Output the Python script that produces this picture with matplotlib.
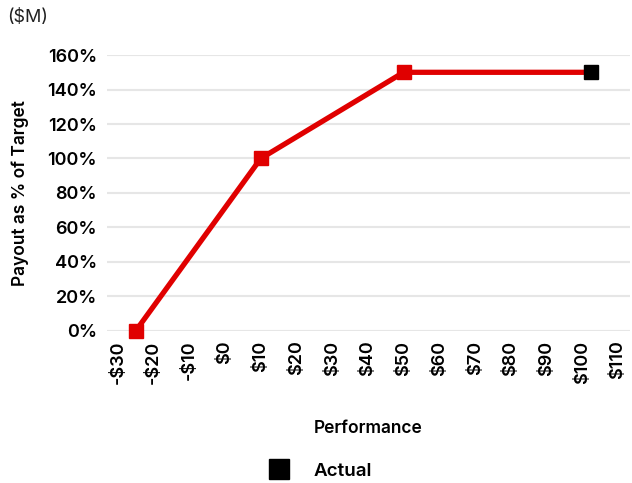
import matplotlib
matplotlib.use("Agg")
import matplotlib.pyplot as plt
from matplotlib.lines import Line2D

plt.rcParams['font.family'] = ['Inter', 'DejaVu Sans']

curve_x = [-25, 10, 50, 102.5]
curve_y = [0, 100, 150, 150]
marker_x = [-25, 10, 50]
marker_y = [0, 100, 150]
actual_x = [102.5]
actual_y = [150]
x_ticks = [-30, -20, -10, 0, 10, 20, 30, 40, 50, 60, 70, 80, 90, 100, 110]
x_labels = ['-$30', '-$20', '-$10', '$0', '$10', '$20', '$30', '$40', '$50',
            '$60', '$70', '$80', '$90', '$100', '$110']
y_ticks = [0, 20, 40, 60, 80, 100, 120, 140, 160]
y_labels = ['0%', '20%', '40%', '60%', '80%', '100%', '120%', '140%', '160%']

fig = plt.figure(figsize=(6.32, 4.83), dpi=100)
ax = fig.add_axes([0.169, 0.315, 0.828, 0.571])

ax.plot(curve_x, curve_y, color='#e00000', lw=3.8, zorder=3, clip_on=False)
ax.plot(marker_x, marker_y, ls='none', marker='s', ms=10, color='#e00000',
        zorder=4, clip_on=False)
ax.plot(actual_x, actual_y, ls='none', marker='s', ms=10, color='black',
        zorder=5, clip_on=False)

ax.set_xlim(-33.1, 113.4)
ax.set_ylim(0, 160)
ax.set_xticks(x_ticks)
ax.set_xticklabels(x_labels, rotation=90, fontsize=13, fontweight='semibold',
                   color='black')
ax.set_yticks(y_ticks)
ax.set_yticklabels(y_labels, fontsize=13, fontweight='semibold', color='black')
ax.tick_params(length=0, pad=7)
ax.grid(axis='y', color='#e6e6e6', lw=1.5)
ax.set_axisbelow(True)
for s in ax.spines.values():
    s.set_visible(False)

ax.set_ylabel('Payout as % of Target', fontsize=12.5, fontweight='semibold',
              labelpad=13)
ax.set_xlabel('Performance', fontsize=12.5, fontweight='semibold', labelpad=26)

fig.text(0.012, 0.963, '($M)', fontsize=13, color='#222222', va='center')

handle = Line2D([], [], ls='none', marker='s', ms=14, color='black')
fig.legend([handle], ['Actual'], loc='center', bbox_to_anchor=(0.5, 0.024),
           frameon=False, prop={'size': 13.5, 'weight': 'semibold'},
           handletextpad=0.8)

fig.savefig('out.png', dpi=100)
